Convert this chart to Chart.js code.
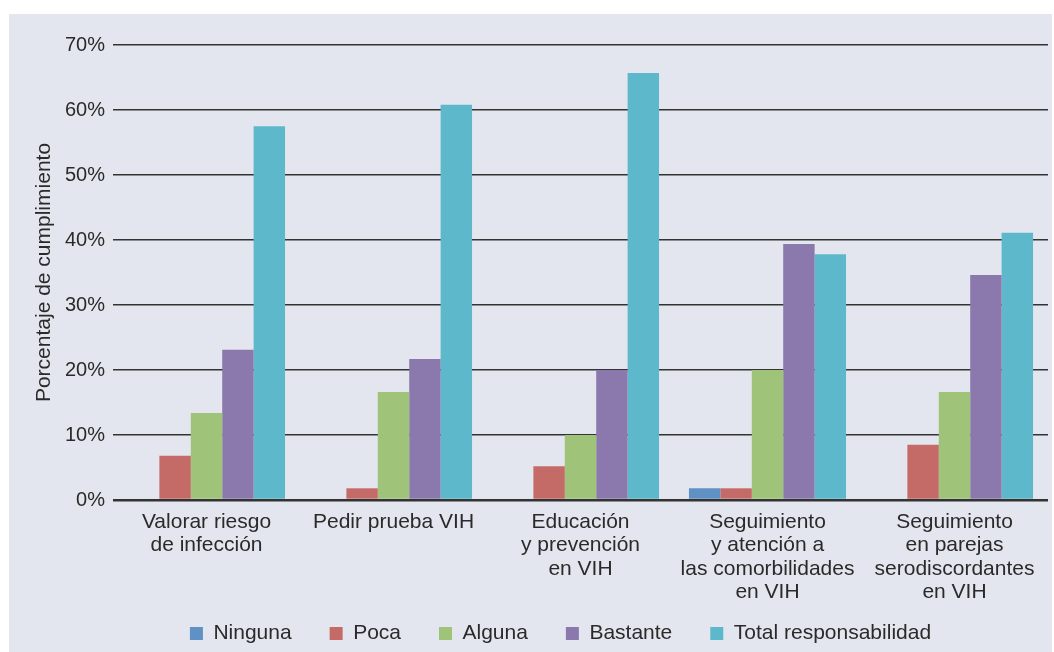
<!DOCTYPE html>
<html>
<head>
<meta charset="utf-8">
<script src="https://cdn.jsdelivr.net/npm/chart.js@4"></script>
<style>
  html, body { margin: 0; padding: 0; background: #fff; }
  #wrap { width: 1054px; height: 652px; }
</style>
</head>
<body>
<div id="wrap"><canvas id="ctx" width="1054" height="652"></canvas></div>
<script>
const categorias = [
    ['Valorar riesgo', 'de infección'],
    'Pedir prueba VIH',
    ['Educación', 'y prevención', 'en VIH'],
    ['Seguimiento', 'y atención a', 'las comorbilidades', 'en VIH'],
    ['Seguimiento', 'en parejas', 'serodiscordantes', 'en VIH']
];
const ninguna  = [0, 0, 0, 1.8, 0];
const poca     = [6.8, 1.8, 5.2, 1.8, 8.5];
const alguna   = [13.4, 16.6, 10.0, 20.0, 16.6];
const bastante = [23.1, 21.7, 20.0, 39.4, 34.6];
const total    = [57.5, 60.8, 65.7, 37.8, 41.1];
const yTicks   = [0, 10, 20, 30, 40, 50, 60, 70];

const txt = '#2b2a2a';
const fnt = 'Liberation Sans, Arial, Helvetica, sans-serif';

// gray panel behind the chart, white strip on top and left
const fondo = {
    id: 'fondo',
    beforeDraw(chart) {
        const c = chart.ctx;
        c.save();
        c.fillStyle = '#ffffff';
        c.fillRect(0, 0, chart.width, chart.height);
        c.fillStyle = '#e3e6ee';
        c.fillRect(9, 14, 1043, 638);
        c.restore();
    }
};

// move the legend box down/left to where it sits in the original
const legendPos = {
    id: 'legendPos',
    afterLayout(chart) {
        const lg = chart.legend;
        lg.left -= 20;
        lg.right -= 20;
        lg.top = 633.5 - 38 - 10.5;
        lg.bottom = 652;
        lg.height = lg.bottom - lg.top;
    }
};

new Chart(document.getElementById('ctx'), {
    type: 'bar',
    data: {
        labels: categorias,
        datasets: [
            {label: 'Ninguna', data: ninguna, backgroundColor: '#6091c5'},
            {label: 'Poca', data: poca, backgroundColor: '#c56b67'},
            {label: 'Alguna', data: alguna, backgroundColor: '#a0c37a'},
            {label: 'Bastante', data: bastante, backgroundColor: '#8b79ae'},
            {label: 'Total responsabilidad', data: total, backgroundColor: '#5db8cb'}
        ]
    },
    options: {
        responsive: false,
        animation: false,
        layout: {padding: {left: 0, right: 6, top: 45, bottom: 0}},
        datasets: {bar: {categoryPercentage: 0.84, barPercentage: 1.0, borderWidth: 0}},
        scales: {
            x: {
                grid: {display: false},
                border: {display: false},
                ticks: {
                    color: txt,
                    font: {family: fnt, size: 21, lineHeight: 1.1},
                    padding: 3,
                    maxRotation: 0,
                    autoSkip: false
                },
                afterFit(scale) { scale.height = 110; }
            },
            y: {
                min: 0,
                max: 70,
                afterBuildTicks(scale) { scale.ticks = yTicks.map(v => ({value: v})); },
                grid: {
                    color: '#333333',
                    lineWidth: (c) => (c.tick && c.tick.value === 0) ? 2.6 : 1.5,
                    drawTicks: false
                },
                border: {display: false},
                ticks: {
                    color: txt,
                    font: {family: fnt, size: 20},
                    padding: 8,
                    callback: (v) => v + '%'
                },
                title: {
                    display: true,
                    text: 'Porcentaje de cumplimiento',
                    color: txt,
                    font: {family: fnt, size: 21},
                    padding: {top: 32, bottom: 0}
                },
                afterFit(scale) { scale.width = 113; }
            }
        },
        plugins: {
            legend: {
                position: 'bottom',
                fullSize: false,
                maxHeight: 42,
                labels: {
                    color: txt,
                    font: {family: fnt, size: 21},
                    boxWidth: 13,
                    boxHeight: 13,
                    padding: 38
                }
            },
            tooltip: {enabled: false}
        }
    },
    plugins: [fondo, legendPos]
});
</script>
</body>
</html>
